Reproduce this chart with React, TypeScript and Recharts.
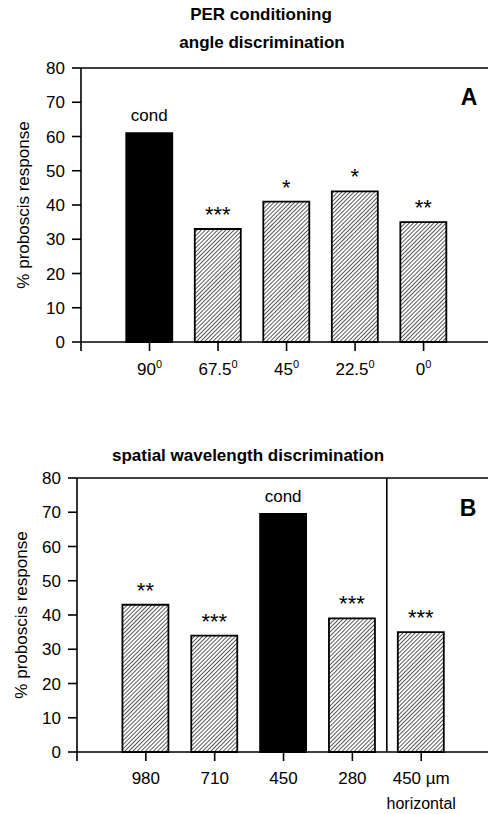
import React from "react";
import {
  BarChart,
  Bar,
  Cell,
  XAxis,
  YAxis,
  LabelList,
  ReferenceLine,
} from "recharts";

// panel A: angle discrimination
const anglesA = ["90", "67.5", "45", "22.5", "0"];
const responseA = [61, 33, 41, 44, 35];
const signifA = ["cond", "***", "*", "*", "**"];

// panel B: spatial wavelength discrimination
const wavelengthsB = ["980", "710", "450", "280", "450 µm"];
const responseB = [43, 34, 69.5, 39, 35];
const signifB = ["**", "***", "cond", "***", "***"];

const yTicks = [0, 10, 20, 30, 40, 50, 60, 70, 80];

const FONT = "'Liberation Sans', Arial, sans-serif";

const dataA = anglesA.map((a, i) => ({
  x: i + 1,
  name: a,
  value: responseA[i],
  note: signifA[i],
}));

const dataB = wavelengthsB.map((w, i) => ({
  x: i + 1,
  name: w,
  value: responseB[i],
  note: signifB[i],
}));

const AngleTick = (props: any) => {
  const { x, y, payload } = props;
  if (payload.value === 0) return null;
  const label = anglesA[payload.value - 1];
  return (
    <text x={x} y={y + 22} textAnchor="middle" fontSize={17} fontFamily={FONT} fill="#000">
      <tspan>{label}</tspan>
      <tspan dy={-7} fontSize={11}>0</tspan>
    </text>
  );
};

const WaveTick = (props: any) => {
  const { x, y, payload } = props;
  if (payload.value === 0) return null;
  const label = wavelengthsB[payload.value - 1];
  const last = payload.value === wavelengthsB.length;
  return (
    <g>
      <text x={x} y={y + 21} textAnchor="middle" fontSize={17} fontFamily={FONT} fill="#000">
        {label}
      </text>
      {last && (
        <text x={x} y={y + 46} textAnchor="middle" fontSize={16} fontFamily={FONT} fill="#000">
          horizontal
        </text>
      )}
    </g>
  );
};

// "cond" in normal text, the stars drawn larger as in the figure
const NoteLabel = (props: any) => {
  const { x, y, width, value } = props;
  const isCond = value === "cond";
  return (
    <text
      x={x + width / 2}
      y={isCond ? y - 12 : y - 7}
      textAnchor="middle"
      fontSize={isCond ? 17 : 22}
      fontFamily={FONT}
      fill="#000"
    >
      {value}
    </text>
  );
};

const Hatch = ({ id }: { id: string }) => (
  <defs>
    <pattern
      id={id}
      patternUnits="userSpaceOnUse"
      width={2.9}
      height={2.9}
      patternTransform="rotate(45)"
    >
      <rect width={2.9} height={2.9} fill="#fff" />
      <line x1={0} y1={0} x2={0} y2={2.9} stroke="#000" strokeWidth={1.3} />
    </pattern>
  </defs>
);

const abs = (left: number, top: number, extra: React.CSSProperties = {}): React.CSSProperties => ({
  position: "absolute",
  left,
  top,
  transform: "translate(-50%, -50%)",
  whiteSpace: "nowrap",
  fontFamily: FONT,
  color: "#000",
  ...extra,
});

const axisStyle = { stroke: "#000", strokeWidth: 1.6 };

const App: React.FC = () => {
  return (
    <div
      style={{
        position: "fixed",
        left: 0,
        top: 0,
        width: 488,
        height: 814,
        overflow: "hidden",
        background: "#fff",
      }}
    >
      <div style={abs(261, 15, { fontSize: 17, fontWeight: "bold" })}>PER conditioning</div>
      <div style={abs(262, 43, { fontSize: 17, fontWeight: "bold" })}>angle discrimination</div>
      <div style={abs(24, 205, { fontSize: 17, transform: "translate(-50%, -50%) rotate(-90deg)" })}>
        % proboscis response
      </div>
      <div style={abs(469, 97, { fontSize: 23, fontWeight: "bold" })}>A</div>

      <div style={{ position: "absolute", left: 0, top: 0 }}>
        <BarChart
          width={488}
          height={400}
          data={dataA}
          margin={{ top: 68, right: 0, left: 21, bottom: 28 }}
        >
          <Hatch id="hatchA" />
          <YAxis
            width={60}
            domain={[0, 80]}
            ticks={yTicks}
            interval={0}
            tickSize={9}
            tickMargin={7}
            axisLine={axisStyle}
            tickLine={axisStyle}
            tick={{ fill: "#000", fontSize: 17, fontFamily: FONT }}
          />
          <XAxis
            type="number"
            dataKey="x"
            domain={[0, 5.94]}
            ticks={[0, 1, 2, 3, 4, 5]}
            interval={0}
            allowDataOverflow
            height={30}
            tickSize={9}
            axisLine={axisStyle}
            tickLine={axisStyle}
            tick={<AngleTick />}
          />
          <ReferenceLine y={80} stroke="#000" strokeWidth={1.6} />
          <Bar dataKey="value" barSize={46} stroke="#000" strokeWidth={1.8} isAnimationActive={false}>
            {dataA.map((d) => (
              <Cell key={d.name} fill={d.note === "cond" ? "#000" : "url(#hatchA)"} />
            ))}
            <LabelList dataKey="note" content={<NoteLabel />} />
          </Bar>
        </BarChart>
      </div>

      <div style={abs(248, 456, { fontSize: 17, fontWeight: "bold" })}>
        spatial wavelength discrimination
      </div>
      <div style={abs(22, 615, { fontSize: 17, transform: "translate(-50%, -50%) rotate(-90deg)" })}>
        % proboscis response
      </div>
      <div style={abs(468, 508, { fontSize: 23, fontWeight: "bold" })}>B</div>

      <div style={{ position: "absolute", left: 0, top: 420 }}>
        <BarChart
          width={488}
          height={394}
          data={dataB}
          margin={{ top: 58, right: 0, left: 17, bottom: 32 }}
        >
          <Hatch id="hatchB" />
          <YAxis
            width={60}
            domain={[0, 80]}
            ticks={yTicks}
            interval={0}
            tickSize={9}
            tickMargin={7}
            axisLine={axisStyle}
            tickLine={axisStyle}
            tick={{ fill: "#000", fontSize: 17, fontFamily: FONT }}
          />
          <XAxis
            type="number"
            dataKey="x"
            domain={[0, 5.97]}
            ticks={[0, 1, 2, 3, 4, 5]}
            interval={0}
            allowDataOverflow
            height={30}
            tickSize={9}
            axisLine={axisStyle}
            tickLine={axisStyle}
            tick={<WaveTick />}
          />
          <ReferenceLine y={80} stroke="#000" strokeWidth={1.6} />
          <ReferenceLine x={4.5} stroke="#000" strokeWidth={1.6} />
          <Bar dataKey="value" barSize={46} stroke="#000" strokeWidth={1.8} isAnimationActive={false}>
            {dataB.map((d) => (
              <Cell key={d.name} fill={d.note === "cond" ? "#000" : "url(#hatchB)"} />
            ))}
            <LabelList dataKey="note" content={<NoteLabel />} />
          </Bar>
        </BarChart>
      </div>
    </div>
  );
};

export default App;
